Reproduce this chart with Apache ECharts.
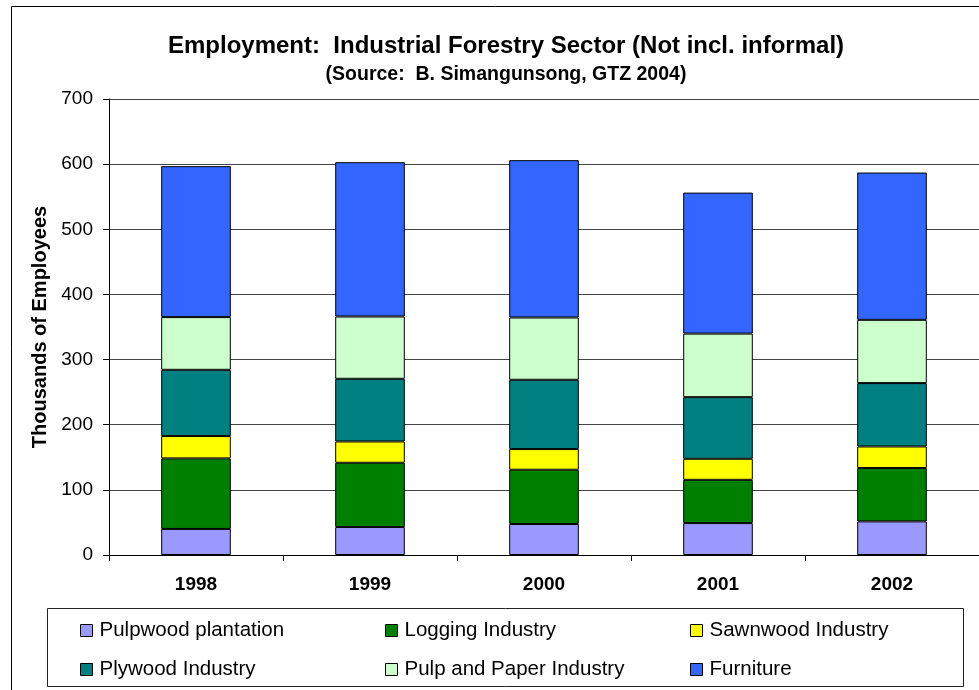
<!DOCTYPE html>
<html>
<head>
<meta charset="utf-8">
<script src="https://cdn.jsdelivr.net/npm/echarts@6/dist/echarts.min.js"></script>
<style>html,body{margin:0;padding:0;background:#fff;}#main{width:979px;height:690px;}</style>
</head>
<body>
<div id="main"></div>
<script>
var categories = ['1998', '1999', '2000', '2001', '2002'];
var seriesNames = ['Pulpwood plantation', 'Logging Industry', 'Sawnwood Industry', 'Plywood Industry', 'Pulp and Paper Industry', 'Furniture'];
var pulpwood = [40.0, 43.0, 47.6, 49.0, 51.6];
var logging = [108.3, 98.6, 83.3, 66.4, 81.9];
var sawnwood = [34.3, 32.7, 31.7, 32.3, 33.1];
var plywood = [101.7, 96.2, 106.4, 94.6, 97.3];
var pulpPaper = [80.9, 95.6, 95.6, 97.6, 97.1];
var furniture = [231.7, 236.9, 241.5, 216.4, 226.1];
var yTicks = [0, 100, 200, 300, 400, 500, 600, 700];

var colors = ['#9999FF', '#008000', '#FFFF00', '#008080', '#CCFFCC', '#3366FF'];
var values = [pulpwood, logging, sawnwood, plywood, pulpPaper, furniture];
var font = 'Liberation Sans, Arial, sans-serif';

var series = seriesNames.map(function (n, i) {
  return {
    name: n, type: 'bar', stack: 'total', data: values[i],
    barCategoryGap: '60%',
    itemStyle: { color: colors[i], borderColor: '#000', borderWidth: 1 }
  };
});

function legendCol(left, names) {
  return {
    orient: 'vertical', left: left, top: 615, data: names,
    icon: 'rect', itemWidth: 12, itemHeight: 12, itemGap: 18,
    itemStyle: { borderColor: '#000', borderWidth: 1 },
    textStyle: { fontFamily: font, fontSize: 20.5, color: '#000', lineHeight: 20, padding: [0, 0, 0, 2] },
    selectedMode: false
  };
}

var chart = echarts.init(document.getElementById('main'), null, { renderer: 'canvas' });
chart.setOption({
  animation: false,
  backgroundColor: '#fff',
  title: [
    { text: 'Employment:  Industrial Forestry Sector (Not incl. informal)', left: 501, top: 29, textAlign: 'center',
      textStyle: { fontFamily: font, fontSize: 24, fontWeight: 'bold', color: '#000' } },
    { text: '(Source:  B. Simangunsong, GTZ 2004)', left: 501, top: 60, textAlign: 'center',
      textStyle: { fontFamily: font, fontSize: 19.5, fontWeight: 'bold', color: '#000' } }
  ],
  legend: [
    legendCol(75, [seriesNames[0], seriesNames[3]]),
    legendCol(380, [seriesNames[1], seriesNames[4]]),
    legendCol(685, [seriesNames[2], seriesNames[5]])
  ],
  graphic: [
    { type: 'rect', shape: { x: 11.5, y: 6.5, width: 1000, height: 700 }, style: { fill: null, stroke: '#000', lineWidth: 1 }, silent: true, z: -1 },
    { type: 'rect', shape: { x: 47.5, y: 608.5, width: 916, height: 78 }, style: { fill: null, stroke: '#222', lineWidth: 1 }, silent: true }
  ],
  grid: { left: 109, top: 99, width: 872.5, height: 456 },
  xAxis: {
    type: 'category', data: categories,
    axisLine: { lineStyle: { color: '#000', width: 1 } },
    axisTick: { show: true, length: 6, lineStyle: { color: '#000' } },
    axisLabel: { fontFamily: font, fontSize: 19, fontWeight: 'bold', color: '#000', margin: 20 }
  },
  yAxis: {
    type: 'value', min: yTicks[0], max: yTicks[yTicks.length - 1], interval: 100,
    name: 'Thousands of Employees', nameLocation: 'middle', nameGap: 57,
    nameTextStyle: { fontFamily: font, fontSize: 20, fontWeight: 'bold', color: '#000' },
    axisLine: { show: true, lineStyle: { color: '#000', width: 1 } },
    axisTick: { show: true, length: 6, lineStyle: { color: '#000' } },
    axisLabel: { fontFamily: font, fontSize: 19, color: '#000', margin: 16 },
    splitLine: { show: true, lineStyle: { color: '#444', width: 1 } }
  },
  series: series
});
</script>
</body>
</html>
